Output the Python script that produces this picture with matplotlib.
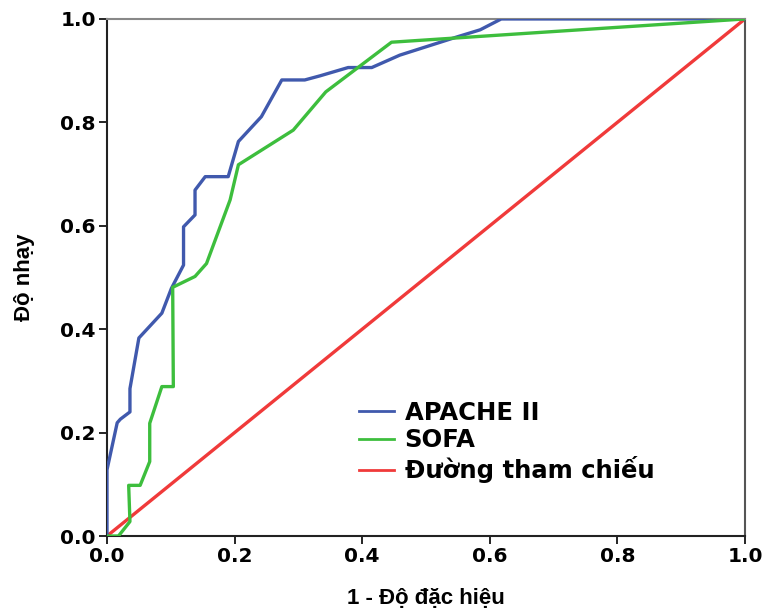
import numpy as np
import matplotlib.pyplot as plt
import matplotlib as mpl

mpl.rcParams['font.family'] = ['Liberation Sans', 'DejaVu Sans']
mpl.rcParams['font.weight'] = 'bold'

# ROC curve points (1 - specificity, sensitivity)
apache_x = [0.0, 0.0, 0.016, 0.021, 0.036, 0.036, 0.050, 0.086, 0.101, 0.120, 0.120,
            0.138, 0.138, 0.154, 0.190, 0.206, 0.242, 0.274, 0.310, 0.334, 0.378,
            0.415, 0.459, 0.548, 0.585, 0.618, 1.0]
apache_y = [0.0, 0.128, 0.219, 0.226, 0.240, 0.285, 0.383, 0.431, 0.479, 0.524, 0.598,
            0.621, 0.669, 0.695, 0.695, 0.763, 0.811, 0.882, 0.882, 0.890, 0.906,
            0.906, 0.930, 0.965, 0.979, 1.0, 1.0]

sofa_x = [0.0, 0.018, 0.036, 0.034, 0.052, 0.067, 0.067, 0.086, 0.104, 0.103,
          0.138, 0.156, 0.193, 0.206, 0.292, 0.343, 0.446, 1.0]
sofa_y = [0.0, 0.0, 0.028, 0.098, 0.098, 0.144, 0.218, 0.289, 0.289, 0.481,
          0.502, 0.527, 0.650, 0.718, 0.785, 0.859, 0.955, 1.0]

ref_x = [0.0, 1.0]
ref_y = [0.0, 1.0]

fig = plt.figure(figsize=(7.68, 6.11), dpi=100)
ax = fig.add_axes([0.1393, 0.1227, 0.8307, 0.8463])

ax.plot(apache_x, apache_y, color='#4059AD', lw=2.4, label='APACHE II', zorder=3)
ax.plot(sofa_x, sofa_y, color='#3DBE3D', lw=2.4, label='SOFA', zorder=3)
ax.plot(ref_x, ref_y, color='#F03A3A', lw=2.4, label='Đường tham chiếu', zorder=2)

ax.set_xlim(0, 1)
ax.set_ylim(0, 1)
ax.set_xticks(np.arange(0, 1.01, 0.2))
ax.set_yticks(np.arange(0, 1.01, 0.2))
ax.xaxis.set_major_formatter(mpl.ticker.FormatStrFormatter('%.1f'))
ax.yaxis.set_major_formatter(mpl.ticker.FormatStrFormatter('%.1f'))
ax.tick_params(direction='out', length=6, width=1.2, labelsize=15.5, pad=2)
for lab in ax.get_xticklabels() + ax.get_yticklabels():
    lab.set_fontfamily(['DejaVu Sans'])
    lab.set_fontsize(14.5)

ax.spines['left'].set_color('#222222')
ax.spines['bottom'].set_color('#222222')
ax.spines['top'].set_color('#888888')
ax.spines['right'].set_color('#555555')
for s in ax.spines.values():
    s.set_linewidth(1.5)

ax.set_xlabel('1 - Độ đặc hiệu', fontsize=16, fontweight='bold', labelpad=16)
ax.set_ylabel('Độ nhạy', fontsize=16, fontweight='bold', labelpad=18)

leg = ax.legend(loc='lower left', bbox_to_anchor=(0.36, 0.06), frameon=False,
                prop={'family': 'DejaVu Sans', 'weight': 'bold', 'size': 17.5},
                handlelength=1.45, handletextpad=0.45, labelspacing=0.15)
for line in leg.get_lines():
    line.set_linewidth(2.0)

fig.savefig('out.png', dpi=100)
